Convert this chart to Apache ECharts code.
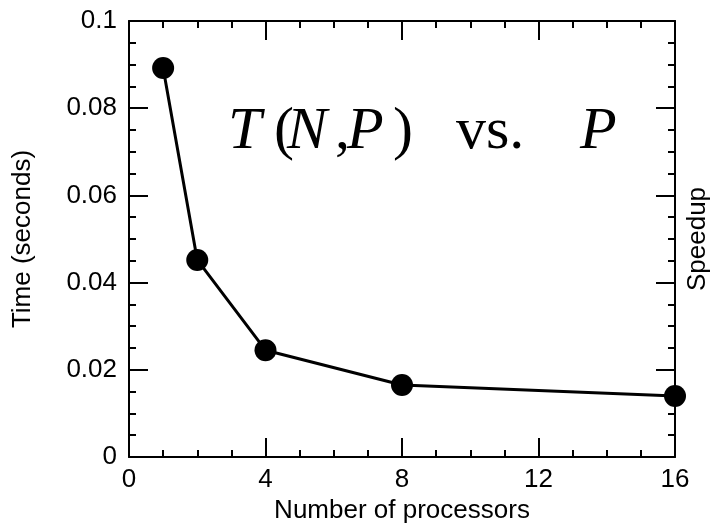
<!DOCTYPE html>
<html>
<head>
<meta charset="utf-8">
<script src="https://cdn.jsdelivr.net/npm/echarts@6/dist/echarts.min.js"></script>
<style>html,body{margin:0;padding:0;background:#fff;}#c{width:710px;height:523px;}</style>
</head>
<body>
<div id="c"></div>
<script>
const processors = [1, 2, 4, 8, 16];
const times = [0.0892, 0.0452, 0.0245, 0.0165, 0.0140];
const xTicks = [0, 4, 8, 12, 16];
const yTicks = [0, 0.02, 0.04, 0.06, 0.08, 0.1];

const chart = echarts.init(document.getElementById('c'), null, {renderer: 'canvas'});
const SANS = '"Liberation Sans", Arial, sans-serif';
const SERIF = '"Liberation Serif", "Times New Roman", serif';
const lbl = {color: '#000', fontFamily: SANS, fontSize: 26};
const tickCommon = {show: true, inside: true, length: 19, lineStyle: {color: '#000', width: 2}};
const minorCommon = {show: true, splitNumber: 4, length: 7, lineStyle: {color: '#000', width: 2}};
const lineCommon = {show: true, onZero: false, lineStyle: {color: '#000', width: 2}};

function titlePiece(text, x, italic) {
  return {type: 'text', x: x, y: 132, z: 10,
    style: {text: text, fill: '#000', align: 'left', verticalAlign: 'middle',
      font: (italic ? 'italic ' : '') + '60px ' + SERIF}};
}

chart.setOption({
  animation: false,
  backgroundColor: '#fff',
  grid: {left: 129, right: 35, top: 21, bottom: 66, containLabel: false, outerBoundsMode: 'none'},
  xAxis: [
    {type: 'value', position: 'bottom', min: xTicks[0], max: xTicks[xTicks.length - 1], interval: 4,
     name: 'Number of processors', nameLocation: 'middle', nameGap: 34,
     nameTextStyle: {color: '#000', fontFamily: SANS, fontSize: 26},
     axisLine: lineCommon, axisTick: tickCommon, minorTick: minorCommon,
     axisLabel: Object.assign({margin: 10}, lbl), splitLine: {show: false}},
    {type: 'value', position: 'top', min: xTicks[0], max: xTicks[xTicks.length - 1], interval: 4,
     axisLine: lineCommon, axisTick: tickCommon, minorTick: minorCommon,
     axisLabel: {show: false}, splitLine: {show: false}}
  ],
  yAxis: [
    {type: 'value', position: 'left', min: yTicks[0], max: yTicks[yTicks.length - 1], interval: 0.02,
     name: 'Time (seconds)', nameLocation: 'middle', nameGap: 93, nameRotate: 90,
     nameTextStyle: {color: '#000', fontFamily: SANS, fontSize: 26},
     axisLine: lineCommon, axisTick: tickCommon, minorTick: minorCommon,
     axisLabel: Object.assign({margin: 12}, lbl), splitLine: {show: false}},
    {type: 'value', position: 'right', min: yTicks[0], max: yTicks[yTicks.length - 1], interval: 0.02,
     name: 'Speedup', nameLocation: 'middle', nameGap: 10, nameRotate: 90,
     nameTextStyle: {color: '#000', fontFamily: SANS, fontSize: 26},
     axisLine: lineCommon, axisTick: tickCommon, minorTick: minorCommon,
     axisLabel: {show: false}, splitLine: {show: false}}
  ],
  series: [{
    type: 'line', xAxisIndex: 0, yAxisIndex: 0,
    data: processors.map((p, i) => [p, times[i]]),
    symbol: 'circle', symbolSize: 22,
    lineStyle: {color: '#000', width: 3},
    itemStyle: {color: '#000'},
    clip: false
  }],
  graphic: [
    titlePiece('T', 228, true),
    titlePiece('(', 274, false),
    titlePiece('N', 287, true),
    titlePiece(',', 335, false),
    titlePiece('P', 347, true),
    titlePiece(')', 393, false),
    titlePiece('vs.', 456, false),
    titlePiece('P', 580, true)
  ]
});
</script>
</body>
</html>
